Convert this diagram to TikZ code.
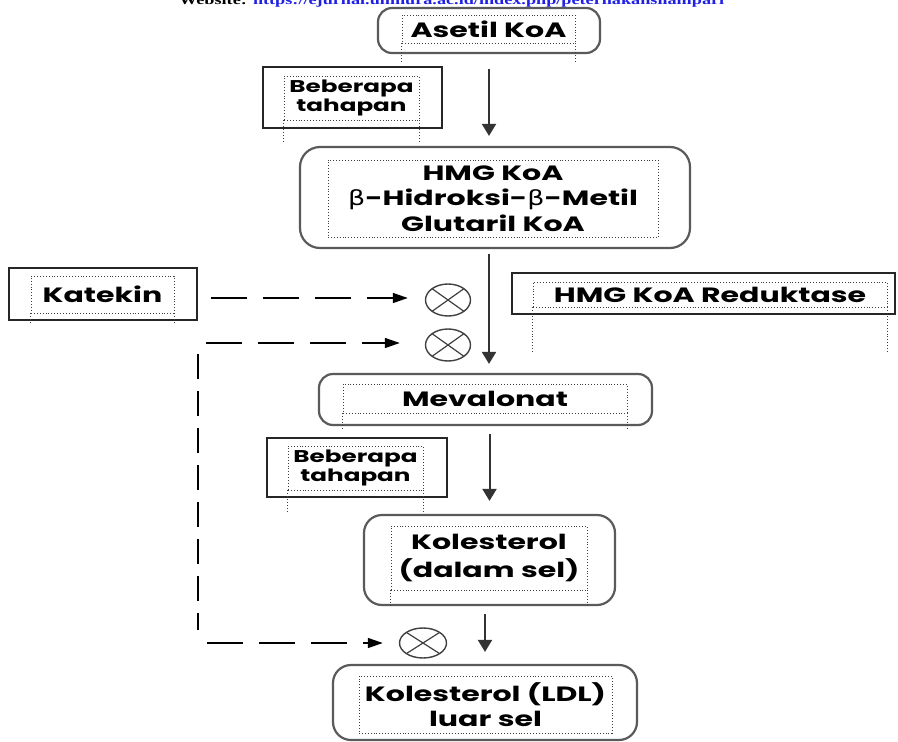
\documentclass[tikz,border=0pt]{standalone}
\usepackage{fontspec}
\usepackage{graphicx}
\usetikzlibrary{arrows.meta,shapes.geometric,calc}
\newfontfamily\boxfont{Poppins}[FakeStretch=1.45]
\newfontfamily\grkfont{DejaVu Sans}[FakeStretch=1.3]
\newfontfamily\headfont{Liberation Serif}[FakeStretch=1.4]
\newcommand{\bta}{{\grkfont\mdseries β}}
\definecolor{boxgray}{HTML}{5A5A5A}
\definecolor{urlblue}{HTML}{1F1FE6}

\tikzset{
  stage/.style={draw=boxgray, line width=2.2pt, rounded corners=14pt, inner sep=0pt},
  note/.style={draw=black!85, line width=1.8pt, inner sep=0pt},
  txt/.style={draw=black!75, dotted, line width=0.9pt, inner sep=0pt, align=center,
    font=\boxfont\bfseries\fontsize{20.7}{25.5}\selectfont},
  smalltxt/.style={txt, font=\boxfont\bfseries\fontsize{17}{19}\selectfont},
  tail/.style={draw=black!75, dotted, line width=0.9pt},
  flow/.style={draw=black!80, line width=2pt, -{Triangle[width=14pt,length=12pt]}},
  inhib/.style={line width=1.6pt, dash pattern=on 36pt off 16pt, -{Triangle[width=10pt,length=15pt]}},
  inhibv/.style={line width=1.6pt, dash pattern=on 25pt off 12pt},
  xnode/.style={ellipse, draw=black!75, line width=1.4pt, minimum width=45pt, minimum height=32pt,
    inner sep=0pt, path picture={
      \draw[line width=1.2pt, black!75]
        ($(path picture bounding box.center)!0.707!(path picture bounding box.north east)$) --
        ($(path picture bounding box.center)!0.707!(path picture bounding box.south west)$)
        ($(path picture bounding box.center)!0.707!(path picture bounding box.north west)$) --
        ($(path picture bounding box.center)!0.707!(path picture bounding box.south east)$);}},
}

\begin{document}
\begin{tikzpicture}[x=1pt, y=-1pt]
  \useasboundingbox (0,0) rectangle (898,742);
  \node[anchor=base west, inner sep=0pt, font=\headfont\bfseries\fontsize{13}{15}\selectfont] (web) at (179,4)
    {Website: \textcolor{urlblue}{https://ejurnal.unmura.ac.id/index.php/peternakansilampari}};
  %
  \node[stage, minimum width=222pt, minimum height=45pt] (asetil) at (489,30.5) {};
  \node[txt, minimum width=173pt, minimum height=28pt] (asetilT) at (488.5,29) {Asetil KoA};
  \node[note, minimum width=179pt, minimum height=61pt] (beb1) at (352.5,97.5) {};
  \node[smalltxt, minimum width=135pt, minimum height=44pt] (beb1T) at (351.5,98) {Beberapa\\tahapan};
  \node[stage, rounded corners=20pt, minimum width=390pt, minimum height=101pt] (hmg) at (495,197.5) {};
  \node[txt, minimum width=330pt, minimum height=77pt] (hmgT) at (493,198.5)
    {HMG KoA\\\bta-Hidroksi-\bta-Metil\\Glutaril KoA};
  \node[note, minimum width=188pt, minimum height=52pt] (kat) at (103,294) {};
  \node[txt, minimum width=143pt, minimum height=37pt] (katT) at (102.5,294.5) {Katekin};
  \node[note, minimum width=383pt, minimum height=41pt] (red) at (703.5,293.5) {};
  \node[txt, minimum width=354pt, minimum height=25pt] (redT) at (710,294.5) {HMG KoA Reduktase};
  \node[stage, minimum width=333pt, minimum height=51pt] (mev) at (485.5,399.5) {};
  \node[txt, minimum width=284pt, minimum height=29pt] (mevT) at (485,398.5) {Mevalonat};
  \node[note, minimum width=180pt, minimum height=59pt] (beb2) at (357,467.5) {};
  \node[smalltxt, minimum width=135pt, minimum height=44pt] (beb2T) at (355.5,468) {Beberapa\\tahapan};
  \node[stage, rounded corners=18pt, minimum width=251pt, minimum height=90pt] (kolsel) at (489.5,560) {};
  \node[txt, font=\boxfont\bfseries\fontsize{20.7}{28}\selectfont, minimum width=196pt, minimum height=64pt]
    (kolselT) at (489,558) {Kolesterol\\(dalam sel)};
  \node[stage, rounded corners=18pt, minimum width=304pt, minimum height=75pt] (ldl) at (485,702.5) {};
  \node[txt, minimum width=253pt, minimum height=57pt] (ldlT) at (485.5,704.5) {Kolesterol (LDL)\\luar sel};
  %
  \foreach \n/\d in {asetilT/19, beb1T/22, katT/10, redT/45, mevT/17, beb2T/22, kolselT/16}
    \draw[tail] (\n.south west) -- ++(0,\d) (\n.south east) -- ++(0,\d);
  %
  \node[xnode] (x1) at (448,300) {};
  \node[xnode] (x2) at (448,345) {};
  \node[xnode, minimum width=47pt, minimum height=30pt] (x3) at (423,643) {};
  \coordinate (cA) at (198,343);
  \coordinate (cB) at (198,643);
  %
  \draw[flow, shorten <=15pt, shorten >=10pt] (asetil.south) -- (asetil.south |- hmg.north);
  \draw[flow, shorten <=5pt, shorten >=9pt] (asetil.south |- hmg.south) -- (asetil.south |- mev.north);
  \draw[flow, shorten <=8pt, shorten >=13pt] (kolsel.north |- mev.south) -- (kolsel.north);
  \draw[flow, shorten <=8pt, shorten >=12pt] (ldl.north |- kolsel.south) -- (ldl.north);
  %
  \draw[inhib, shorten <=13pt, shorten >=17pt] (kat.east |- 0,298) -- (x1.west |- 0,298);
  \draw[inhib, shorten <=8pt, shorten >=25pt] (cA) -- (cA -| x2.west);
  \draw[inhibv, shorten <=11pt, shorten >=13pt] (cA) -- (cB);
  \draw[inhib, shorten <=9pt, shorten >=16pt] (cB) -- (x3.west);
\end{tikzpicture}
\end{document}
